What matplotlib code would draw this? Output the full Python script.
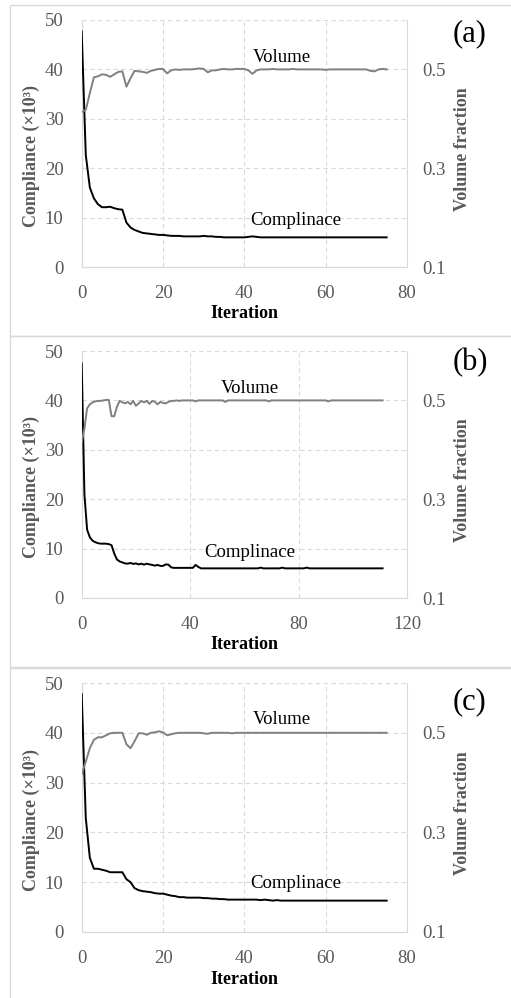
import matplotlib
matplotlib.use("Agg")
import matplotlib.pyplot as plt
from matplotlib.patches import Rectangle

plt.rcParams['font.family'] = ['Liberation Serif', 'DejaVu Serif']

# ---- data ----
comp_a = [47.7, 22.7, 16.1, 13.9, 12.7, 12.1, 12.1, 12.2, 11.9, 11.7,
          11.6, 9.0, 8.0, 7.5, 7.2, 6.9, 6.8, 6.7, 6.6, 6.5,
          6.5, 6.4, 6.3, 6.3, 6.3, 6.2, 6.2, 6.2, 6.2, 6.2,
          6.3, 6.2, 6.2, 6.1, 6.1, 6.0, 6.0, 6.0, 6.0, 6.0,
          6.0, 6.1, 6.2, 6.1, 6.0, 6.0, 6.0, 6.0, 6.0, 6.0,
          6.0, 6.0, 6.0, 6.0, 6.0, 6.0, 6.0, 6.0, 6.0, 6.0,
          6.0, 6.0, 6.0, 6.0, 6.0, 6.0, 6.0, 6.0, 6.0, 6.0,
          6.0, 6.0, 6.0, 6.0, 6.0, 6.0]
vol_a = [0.414, 0.418, 0.452, 0.484, 0.486, 0.490, 0.489, 0.485, 0.490, 0.495,
         0.496, 0.465, 0.482, 0.497, 0.496, 0.495, 0.493, 0.497, 0.499, 0.501,
         0.501, 0.492, 0.498, 0.500, 0.499, 0.500, 0.500, 0.500, 0.501, 0.502,
         0.501, 0.494, 0.498, 0.498, 0.500, 0.501, 0.500, 0.500, 0.501, 0.501,
         0.501, 0.498, 0.491, 0.498, 0.500, 0.500, 0.500, 0.501, 0.500, 0.500,
         0.500, 0.500, 0.501, 0.500, 0.500, 0.500, 0.500, 0.500, 0.500, 0.500,
         0.499, 0.500, 0.500, 0.500, 0.500, 0.500, 0.500, 0.500, 0.500, 0.500,
         0.500, 0.497, 0.496, 0.500, 0.501, 0.500]

comp_b = [47.5, 21.0, 13.8, 12.3, 11.6, 11.3, 11.1, 11.0, 11.0, 11.0,
          10.9, 10.7, 9.0, 7.8, 7.4, 7.2, 7.0, 6.95, 7.1, 6.9,
          7.0, 6.8, 6.95, 6.75, 6.95, 6.8, 6.7, 6.55, 6.7, 6.5,
          6.5, 6.8, 6.75, 6.2, 6.1, 6.1, 6.1, 6.1, 6.1, 6.1,
          6.1, 6.1, 6.7, 6.3, 6.0, 6.0, 6.0, 6.0, 6.0, 6.0,
          6.0, 6.0, 6.0, 6.0, 6.0, 6.0, 6.0, 6.0, 6.0, 6.0,
          6.0, 6.0, 6.0, 6.0, 6.0, 6.0, 6.15, 6.0, 6.0, 6.0,
          6.0, 6.0, 6.0, 6.0, 6.15, 6.0, 6.0, 6.0, 6.0, 6.0,
          6.0, 6.0, 6.0, 6.15, 6.0, 6.0, 6.0, 6.0, 6.0, 6.0,
          6.0, 6.0, 6.0, 6.0, 6.0, 6.0, 6.0, 6.0, 6.0, 6.0,
          6.0, 6.0, 6.0, 6.0, 6.0, 6.0, 6.0, 6.0, 6.0, 6.0,
          6.0, 6.0]
vol_b = [0.415, 0.443, 0.484, 0.492, 0.496, 0.498, 0.499, 0.499, 0.500, 0.501,
         0.501, 0.468, 0.468, 0.487, 0.499, 0.496, 0.494, 0.497, 0.492, 0.499,
         0.489, 0.494, 0.499, 0.496, 0.499, 0.493, 0.499, 0.497, 0.492, 0.497,
         0.495, 0.494, 0.497, 0.499, 0.499, 0.500, 0.499, 0.500, 0.500, 0.500,
         0.500, 0.500, 0.498, 0.500, 0.500, 0.500, 0.500, 0.500, 0.500, 0.500,
         0.500, 0.500, 0.500, 0.497, 0.500, 0.500, 0.500, 0.500, 0.500, 0.500,
         0.500, 0.500, 0.500, 0.500, 0.500, 0.500, 0.500, 0.500, 0.500, 0.498,
         0.500, 0.500, 0.500, 0.500, 0.500, 0.500, 0.500, 0.500, 0.500, 0.500,
         0.500, 0.500, 0.500, 0.500, 0.500, 0.500, 0.500, 0.500, 0.500, 0.500,
         0.500, 0.498, 0.500, 0.500, 0.500, 0.500, 0.500, 0.500, 0.500, 0.500,
         0.500, 0.500, 0.500, 0.500, 0.500, 0.500, 0.500, 0.500, 0.500, 0.500,
         0.500, 0.500]

comp_c = [47.8, 22.9, 14.9, 12.7, 12.7, 12.5, 12.3, 12.0, 12.0, 12.0,
          12.0, 10.6, 10.0, 8.8, 8.4, 8.2, 8.1, 8.0, 7.8, 7.7,
          7.7, 7.5, 7.3, 7.2, 7.0, 7.0, 6.9, 6.9, 6.9, 6.9,
          6.8, 6.8, 6.7, 6.7, 6.6, 6.6, 6.5, 6.5, 6.5, 6.5,
          6.5, 6.5, 6.5, 6.5, 6.4, 6.5, 6.4, 6.3, 6.4, 6.3,
          6.3, 6.3, 6.3, 6.3, 6.3, 6.3, 6.3, 6.3, 6.3, 6.3,
          6.3, 6.3, 6.3, 6.3, 6.3, 6.3, 6.3, 6.3, 6.3, 6.3,
          6.3, 6.3, 6.3, 6.3, 6.3, 6.3]
vol_c = [0.417, 0.442, 0.469, 0.486, 0.491, 0.491, 0.495, 0.499, 0.500, 0.500,
         0.500, 0.477, 0.469, 0.483, 0.499, 0.499, 0.496, 0.500, 0.501, 0.503,
         0.501, 0.495, 0.497, 0.499, 0.500, 0.500, 0.500, 0.500, 0.500, 0.500,
         0.499, 0.498, 0.500, 0.500, 0.500, 0.500, 0.500, 0.499, 0.500, 0.500,
         0.500, 0.500, 0.500, 0.500, 0.500, 0.500, 0.500, 0.500, 0.500, 0.500,
         0.500, 0.500, 0.500, 0.500, 0.500, 0.500, 0.500, 0.500, 0.500, 0.500,
         0.500, 0.500, 0.500, 0.500, 0.500, 0.500, 0.500, 0.500, 0.500, 0.500,
         0.500, 0.500, 0.500, 0.500, 0.500, 0.500]

panel_labels = ['(a)', '(b)', '(c)']
x_maxes = [80, 120, 80]
x_steps = [20, 40, 20]
vol_text_pos = [(49.3, 42.5), (62.1, 42.5), (49.3, 42.6)]
comp_text_pos = [(52.7, 9.5), (62.1, 9.3), (52.7, 9.8)]

GRID = '#d9d9d9'
TICK = '#595959'
W, H = 511, 998

fig = plt.figure(figsize=(W / 100, H / 100), dpi=100)

# (axes top px, axes bottom px, frame top px, frame bottom px, label y px)
layout = [(20, 267, 5, 336, 34), (351, 598, 336, 667, 363), (683, 932, 668, 1010, 702)]
series = [(comp_a, vol_a), (comp_b, vol_b), (comp_c, vol_c)]

for i in range(3):
    top, bot, ftop, fbot, ly = layout[i]
    comp, vol = series[i]

    # light frame around each panel (runs off the right edge, like the source)
    fig.add_artist(Rectangle((10 / W, 1 - fbot / H), 520 / W, (fbot - ftop) / H,
                             transform=fig.transFigure, fill=False,
                             edgecolor=GRID, lw=1.0))

    ax = fig.add_axes([81.7 / W, 1 - bot / H, (407 - 81.7) / W, (bot - top) / H])
    ax2 = ax.twinx()

    ax.plot(range(len(comp)), comp, color='black', lw=1.4, zorder=3)
    ax2.plot(range(len(vol)), vol, color='#808080', lw=1.4)

    ax.set_xlim(0, x_maxes[i])
    ax.set_ylim(0, 50)
    ax2.set_ylim(0.1, 0.6)
    ax.set_xticks(range(0, x_maxes[i] + 1, x_steps[i]))
    ax.set_yticks(range(0, 51, 10))
    ax2.set_yticks([0.1, 0.3, 0.5])
    ax2.set_yticklabels(['0.1', '0.3', '0.5'])

    ax.grid(True, ls=(0, (4, 3)), color=GRID, lw=0.8)
    for s in ['top', 'right']:
        ax.spines[s].set_visible(False)
    for s in ['top', 'left', 'bottom']:
        ax2.spines[s].set_visible(False)
    ax.spines['left'].set_color(GRID)
    ax.spines['bottom'].set_color(GRID)
    ax2.spines['right'].set_color(GRID)

    ax.tick_params(axis='y', length=0, pad=13, labelsize=13.5, labelcolor=TICK)
    ax.tick_params(axis='x', length=0, pad=13, labelsize=13.5, labelcolor=TICK)
    ax2.tick_params(axis='y', length=0, pad=11, labelsize=13.5, labelcolor=TICK)

    ax.set_ylabel('Compliance (×10³)', fontsize=13, fontweight='bold', color=TICK)
    ax.yaxis.set_label_coords(-0.128, 0.449)
    ax2.set_ylabel('Volume fraction', fontsize=13, fontweight='bold', color=TICK)
    ax2.yaxis.set_label_coords(1.145, 0.478)
    ax.set_xlabel('Iteration', fontsize=13, fontweight='bold', color='black')
    ax.xaxis.set_label_coords(0.5, -0.155)

    ax.text(*vol_text_pos[i], 'Volume', ha='center', va='center', fontsize=13.5)
    ax.text(*comp_text_pos[i], 'Complinace', ha='center', va='center', fontsize=13.5)

    fig.text(470 / W, 1 - ly / H, panel_labels[i], ha='center', va='center', fontsize=22)

fig.savefig('out.png', dpi=100)
